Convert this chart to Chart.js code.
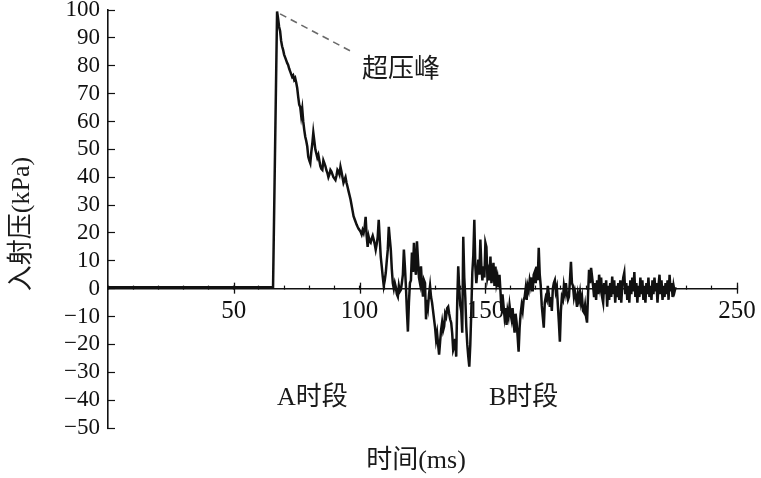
<!DOCTYPE html>
<html>
<head>
<meta charset="utf-8">
<script src="https://cdn.jsdelivr.net/npm/chart.js@4/dist/chart.umd.min.js"></script>
<style>
html,body{margin:0;padding:0;background:#fff;}
canvas{display:block;}
</style>
</head>
<body>
<canvas id="c" width="761" height="478"></canvas>
<script>
// ---- data ----
// quiet part before the shock arrives
const preTime = [0, 65.6];
const prePressure = [0.5, 0.5];
// sampled record from the peak onwards (one reading every 0.4 ms)
const sampleStartMs = 67.2;
const sampleStepMs = 0.4;
const recordPressure = [
99.5,97,94,92.5,89,87,85.7,84,83,82,81,80.3,79,78,77,76,76.5,75,75.6,74,
72,68.8,66,65.2,62,64.5,60,57,54.5,53,51,47.3,46,45,49,52,56,53,50,48.5,
47,48,46,44,43,42.6,46,45,44,42.5,41.5,40,41,42.6,42,41,40,39.5,39,40.5,
42.6,42,41,43.7,42,40,38,39,40,38,36.6,35,33.5,32,30,28,26,25,24,23,
22.2,21.5,21,20.4,19.5,21,20,22,25.8,19,15,18.6,17,16.5,18,19,17.6,16,14,16,
18.6,24.7,18,11.5,8,4.3,1,3,5.7,10,14,22.2,18,14,7,2,0,2,0.5,-2,
-2.9,1,-1,-0.4,2,5,14,8,1,-8,-15.4,-5,2,3,13,6,16.5,8,5,17,
10.4,4,2,8,1,-2.9,3,2,-11,-4,-6.5,-2,1,-3,-5,-8,-11,-14,-18.3,-16,
-20,-23.7,-19,-14.7,-12,-15,-13.6,-9,-10,-7,-6.5,-9,-11,-12.2,-16,-22,-20.8,-18,-24.4,-5,
8,0,-6,-8,-15.8,18.6,4,-3,-13.6,-20,-24.4,-28,-20,-8,5.7,12,24.7,8,2,6,
10.4,5,17.6,8,3,8,4,16.5,15,4,6,3,11.5,2,5,9.3,1,7.9,2,4,
0.5,5,-1,-8,-2,-6,-10,-7,-13,-8,-10,-6,-9,-11,-7,-12,-15.8,-9,-12,-17,
-22.6,-14,-9,-6,-8,-4,-3,0,-4,1,-0.5,3,1,4,-1,5,6,2,7.9,3,
14.7,5,1,-6,-10,-14,-5,-3,-4,1,-2,-6.5,-3,-8,0,2,3,-1,0.5,-6,
-12,-19,-8,-3,-4,1,-1.4,2,-2,-4,-2.9,3,9.6,2,1,-3,-1,-3,-6.5,-2,
-4,-1.4,-5,-3,-8,-8.6,-6,-10,-12.2,-2,6.8,2,7.5,4.3,1,-3,2,-4,3,-2,
5,1,4,-3,-5,2,-2,3,-6.5,1,-4,2,-3,4.3,-2,3,-5,1,-3,2,
-4,3,-5,1,4,5.7,-2,2,-4,1,-5,3,-2,4,-1,6,-3,2,-5,1,
-3,4,-2,3,-4,1,-5,2,-2,4,-3,1,-4,3,-2,4,-1,2,-5,1,
5,-2,3,-4,1,-3,2,-2,3,-4,5,-1,2,-3,1,-1,0.5
];
// dashed leader from the peak to the "超压峰" note
const leaderTime = [68.4, 97];
const leaderPressure = [98.6, 85];
const xTickLabels = [50, 100, 150, 250];
const xMajorTicks = [50, 100, 150, 200, 250];

const serif = "'Liberation Serif', 'Noto Sans CJK SC', serif";
const cjk = "'Liberation Serif', 'Noto Sans CJK SC', sans-serif";

const signal = preTime.map((t, i) => ({x: t, y: prePressure[i]}))
  .concat(recordPressure.map((v, i) => ({x: sampleStartMs + i * sampleStepMs, y: v})));
const leader = leaderTime.map((t, i) => ({x: t, y: leaderPressure[i]}));

const decorPlugin = {
  id: 'decor',
  afterDraw(chart) {
    const ctx = chart.ctx;
    const xs = chart.scales.x, ys = chart.scales.y;
    const y0 = ys.getPixelForValue(0);
    ctx.save();
    ctx.strokeStyle = '#111';
    ctx.lineWidth = 1.3;
    xMajorTicks.forEach(v => {
      const px = Math.round(xs.getPixelForValue(v)) + 0.5;
      ctx.beginPath();
      ctx.moveTo(px, y0 - 6);
      ctx.lineTo(px, y0 + 5);
      ctx.stroke();
    });
    ctx.fillStyle = '#1a1a1a';
    ctx.textBaseline = 'middle';
    ctx.textAlign = 'left';
    ctx.font = '26px ' + cjk;
    ctx.fillText('超压峰', 362, 70);
    ctx.fillText('A时段', 277, 398);
    ctx.fillText('B时段', 489, 398);
    ctx.textAlign = 'center';
    ctx.fillText('时间(ms)', 416, 461);
    ctx.translate(22, 224);
    ctx.rotate(-Math.PI / 2);
    ctx.fillText('入射压(kPa)', 0, 0);
    ctx.restore();
  }
};

new Chart(document.getElementById('c'), {
  type: 'line',
  data: {
    datasets: [
      {
        data: signal,
        borderColor: '#111',
        borderWidth: 2.5,
        pointRadius: 0,
        tension: 0,
        fill: false
      },
      {
        data: leader,
        borderColor: '#6a6a6a',
        borderWidth: 1.6,
        borderDash: [7, 5],
        pointRadius: 0,
        tension: 0,
        fill: false
      }
    ]
  },
  options: {
    responsive: false,
    animation: false,
    devicePixelRatio: 1,
    layout: {padding: {left: 0, right: 24, top: 10, bottom: 50}},
    plugins: {legend: {display: false}, tooltip: {enabled: false}},
    scales: {
      x: {
        type: 'linear',
        min: 0,
        max: 250,
        position: {y: 0},
        afterFit(s) { s.height = 0; s.paddingLeft = 0; s.paddingRight = 0; },
        border: {display: true, color: '#111', width: 1.6},
        grid: {display: true, drawOnChartArea: false, drawTicks: true, tickLength: -4, tickColor: '#111', tickWidth: 1.2},
        ticks: {
          stepSize: 10,
          autoSkip: false,
          maxRotation: 0,
          padding: 12,
          color: '#111',
          font: {family: serif, size: 25},
          callback: v => xTickLabels.includes(v) ? String(v) : ''
        }
      },
      y: {
        type: 'linear',
        min: -50,
        max: 100,
        afterFit(s) { s.width = 108; s.paddingTop = 0; s.paddingBottom = 0; },
        border: {display: true, color: '#111', width: 1.6},
        grid: {display: true, drawOnChartArea: false, drawTicks: true, tickLength: -7, tickColor: '#111', tickWidth: 1.2},
        ticks: {
          stepSize: 10,
          autoSkip: false,
          padding: 15,
          color: '#111',
          font: {family: serif, size: 23},
          callback: v => v < 0 ? '\u2212' + Math.abs(v) : String(v)
        }
      }
    }
  },
  plugins: [decorPlugin]
});
</script>
</body>
</html>
